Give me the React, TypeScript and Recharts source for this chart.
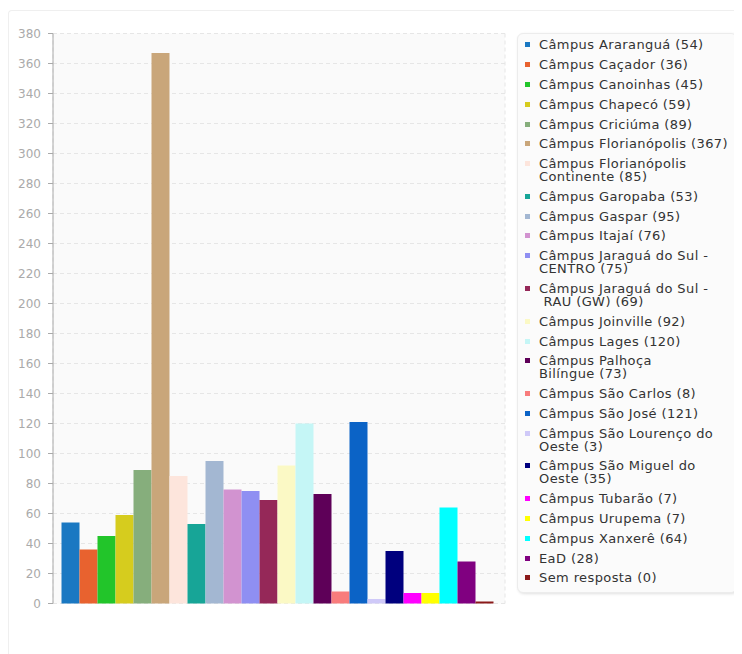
import { BarChart, Bar, XAxis, YAxis, CartesianGrid } from 'recharts';

// Respostas por câmpus
const campuses = [
  'Câmpus Araranguá',
  'Câmpus Caçador',
  'Câmpus Canoinhas',
  'Câmpus Chapecó',
  'Câmpus Criciúma',
  'Câmpus Florianópolis',
  'Câmpus Florianópolis\nContinente',
  'Câmpus Garopaba',
  'Câmpus Gaspar',
  'Câmpus Itajaí',
  'Câmpus Jaraguá do Sul -\nCENTRO',
  'Câmpus Jaraguá do Sul -\n RAU (GW)',
  'Câmpus Joinville',
  'Câmpus Lages',
  'Câmpus Palhoça\nBilíngue',
  'Câmpus São Carlos',
  'Câmpus São José',
  'Câmpus São Lourenço do\nOeste',
  'Câmpus São Miguel do\nOeste',
  'Câmpus Tubarão',
  'Câmpus Urupema',
  'Câmpus Xanxerê',
  'EaD',
  'Sem resposta',
];

const counts = [54, 36, 45, 59, 89, 367, 85, 53, 95, 76, 75, 69, 92, 120, 73, 8, 121, 3, 35, 7, 7, 64, 28, 0];

const colors = [
  '#1a78c2', '#e8622f', '#22c52a', '#d6cc1e', '#86ae7c', '#c9a67a',
  '#fde5dc', '#17a597', '#a3b7d2', '#d293d0', '#8f8ff2', '#952858',
  '#fbf9c5', '#c5f6f6', '#5e0058', '#f87c7c', '#0b63c6', '#cfc9f8',
  '#00007e', '#ff00ff', '#ffff00', '#00ffff', '#800080', '#8b1a1a',
];

const yTicks = [0, 20, 40, 60, 80, 100, 120, 140, 160, 180, 200, 220, 240, 260, 280, 300, 320, 340, 360, 380];

const row: Record<string, number | string> = { name: 'total' };
counts.forEach((v, i) => {
  row[`s${i}`] = v;
});
const data = [row];

const font = '"DejaVu Sans", Verdana, sans-serif';

function LegendBox() {
  return (
    <div
      style={{
        position: 'absolute',
        left: 509,
        top: 25,
        width: 220,
        height: 560,
        boxSizing: 'border-box',
        background: '#fbfbfb',
        border: '1px solid #ececec',
        borderRadius: 6,
        boxShadow: '1px 1px 3px rgba(0,0,0,0.12)',
        padding: '1px 0 0 7px',
        fontFamily: font,
        fontSize: 13,
        letterSpacing: 0.4,
        color: '#333',
      }}
    >
      {campuses.map((c, i) => (
        <div key={c} style={{ display: 'flex', alignItems: 'flex-start', padding: '3.4px 0' }}>
          <span
            style={{
              width: 5,
              height: 5,
              background: colors[i],
              marginTop: 4,
              marginRight: 9,
              flex: 'none',
            }}
          />
          <span style={{ whiteSpace: 'pre', lineHeight: '13px' }}>{`${c} (${counts[i]})`}</span>
        </div>
      ))}
    </div>
  );
}

export default function App() {
  return (
    <div style={{ position: 'relative', width: 734, height: 646 }}>
      <div
        style={{
          position: 'absolute',
          left: 0,
          top: 2,
          width: 740,
          height: 650,
          borderLeft: '1px solid #efefef',
          borderTop: '1px solid #efefef',
          borderTopLeftRadius: 4,
        }}
      />
      <div style={{ position: 'absolute', left: 0, top: 0 }}>
        <BarChart
          width={510}
          height={620}
          data={data}
          margin={{ top: 25.5, right: 13, bottom: 24.5, left: 0 }}
          barGap={0}
          barCategoryGap={8.5}
        >
          <CartesianGrid stroke="#e6e6e6" strokeDasharray="4 3" fill="#fafafa" />
          <XAxis dataKey="name" height={0} tick={false} tickLine={false} axisLine={{ stroke: '#d6d6d6' }} />
          <YAxis
            width={45}
            domain={[0, 380]}
            ticks={yTicks}
            interval={0}
            tickSize={5}
            tickMargin={7}
            axisLine={{ stroke: '#aaaaaa' }}
            tickLine={{ stroke: '#aaaaaa' }}
            tick={{ fill: '#aaaaaa', fontSize: 12, fontFamily: font }}
          />
          {counts.map((_, i) => (
            <Bar
              key={i}
              dataKey={`s${i}`}
              fill={colors[i]}
              minPointSize={2}
              isAnimationActive={false}
            />
          ))}
        </BarChart>
      </div>
      <LegendBox />
    </div>
  );
}
